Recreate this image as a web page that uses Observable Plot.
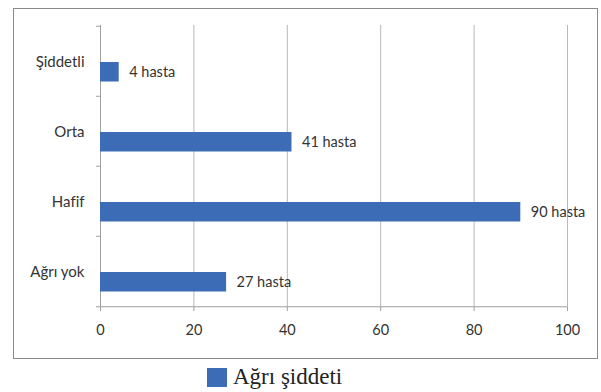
<!DOCTYPE html>
<html>
<head>
<meta charset="utf-8">
<script src="https://cdn.jsdelivr.net/npm/d3@7"></script>
<script src="https://cdn.jsdelivr.net/npm/@observablehq/plot@0.6"></script>
<style>
  body { margin: 0; background: #fff; width: 601px; height: 392px; overflow: hidden; position: relative; }
  #frame { position: absolute; left: 13px; top: 8px; width: 583px; height: 349px; border: 1px solid #8a8a8a; pointer-events: none; }
  #chart { position: absolute; left: 0; top: 0; }
  #chart text { font-variant-ligatures: none; }
  #legend { position: absolute; left: 207px; top: 364px; display: flex; align-items: center; font-family: "Liberation Serif", "Times New Roman", serif; font-size: 23px; color: #222; }
  #legend .sw { width: 20px; height: 19px; background: #3b6cb5; margin-right: 6px; }
</style>
</head>
<body>
<div id="chart"></div>
<div id="frame"></div>
<div id="legend"><span class="sw"></span><span>Ağrı şiddeti</span></div>
<script>
const categories = ["Şiddetli", "Orta", "Hafif", "Ağrı yok"];
const values = [4, 41, 90, 27];
const labels = ["4 hasta", "41 hasta", "90 hasta", "27 hasta"];
const xTicks = [0, 20, 40, 60, 80, 100];

const data = categories.map((c, i) => ({cat: c, value: values[i], label: labels[i]}));
const last = [categories[categories.length - 1]];

const chart = Plot.plot({
  width: 601,
  height: 360,
  marginLeft: 100,
  marginRight: 34,
  marginTop: 25,
  marginBottom: 53,
  style: {fontFamily: "Lato, 'Open Sans', sans-serif", fontSize: "14.5px", color: "#333", background: "transparent"},
  x: {domain: [0, 100], ticks: xTicks, label: null},
  y: {domain: categories, padding: 0, label: null},
  marks: [
    Plot.ruleX(xTicks.slice(1), {stroke: "#b8b8b8", strokeWidth: 1}),
    Plot.ruleX([0], {stroke: "#a0a0a0"}),
    Plot.ruleY(categories, {y: d => d, x1: 0, x2: 0, insetLeft: -4, dy: -35.25, stroke: "#a0a0a0"}),
    Plot.ruleY(last, {y: d => d, x1: 0, x2: 100, insetLeft: -4, dy: 35.25, stroke: "#a0a0a0"}),
    Plot.barX(data, {y: "cat", x: "value", fill: "#3b6cb5", insetTop: 36, insetBottom: 14.5}),
    Plot.text(data, {y: "cat", x: "value", text: "label", dx: 10, dy: 11, textAnchor: "start", fill: "#333", fontSize: 14.5}),
    Plot.axisX({ticks: xTicks, tickSize: 4, tickPadding: 13, stroke: "#a0a0a0", fill: "#333", fontSize: 14.5}),
    Plot.axisY({tickSize: 0, tickPadding: 16, fill: "#333", fontSize: 15, dy: 1})
  ]
});
document.getElementById("chart").appendChild(chart);
</script>
</body>
</html>
